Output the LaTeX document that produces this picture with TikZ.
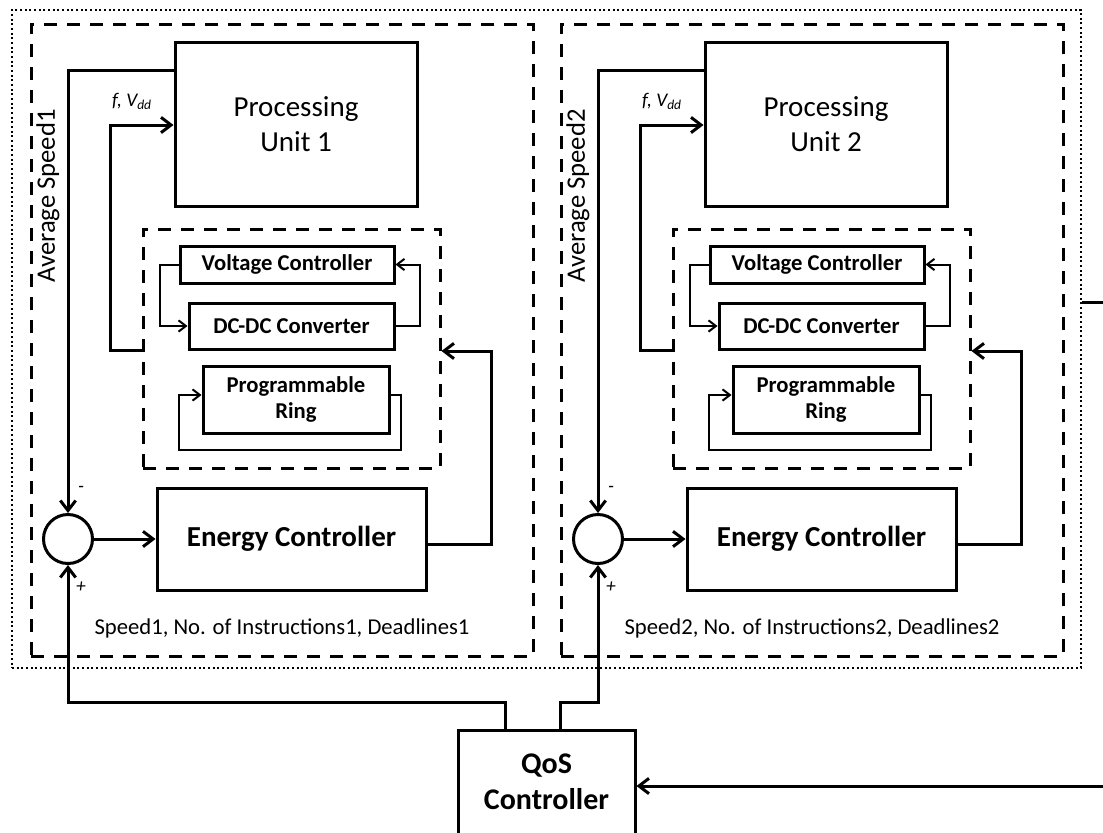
\documentclass[tikz,border=0pt]{standalone}
\usepackage{fontspec}
\setmainfont{Carlito}
\usetikzlibrary{arrows.meta}
\begin{document}
\begin{tikzpicture}[x=0.75pt,y=-0.75pt,
  sz/.style 2 args={minimum width=#1*0.75pt,minimum height=#2*0.75pt},
  box/.style={draw,line width=2.25pt,inner sep=0pt,align=center},
  dashbox/.style={draw,line width=2.25pt,dash pattern=on 9.75pt off 7.5pt,inner sep=0pt},
  dotbox/.style={draw,line width=1.9pt,dash pattern=on 1.6pt off 1.9pt,inner sep=0pt},
  wire/.style={line width=2.25pt},
  thinwire/.style={line width=1.5pt},
  arr/.style={-{Straight Barb[length=7.5pt,width=11.5pt]}},
  sarr/.style={-{Straight Barb[length=5.5pt,width=8.5pt]}},
  big/.style={font=\fontsize{21.75}{26}\selectfont},
  bigb/.style={font=\bfseries\fontsize{21.75}{26}\selectfont},
  midb/.style={font=\bfseries\fontsize{17}{20}\selectfont},
  mid/.style={font=\fontsize{17}{20}\selectfont},
  small/.style={font=\itshape\fontsize{14.5}{16}\selectfont,inner sep=0pt},
]
\useasboundingbox (0,0) rectangle (1103,832);

\node[dotbox,sz={1069}{658}] (outer) at (546.5,339) {};

\foreach \i/\dx in {1/0,2/530}{
\begin{scope}[xshift={\dx*0.75pt}]
  \node[dashbox,sz={502}{632}] (panel\i) at (282,340) {};
  \node[box,big,sz={242}{164}] (pu\i) at (296,124) {Processing\\Unit \i};
  \node[dashbox,sz={297}{239}] (ctl\i) at (291.5,348.5) {};
  \node[box,midb,sz={214}{37}] (vc\i) at (287,264.5) {Voltage Controller};
  \node[box,midb,sz={205}{46}] (dc\i) at (291.5,326) {DC-DC Converter};
  \node[box,midb,sz={186}{67}] (ring\i) at (296,399.5) {Programmable\\Ring};
  \node[box,bigb,sz={269}{102}] (ec\i) at (291.5,539) {Energy Controller};
  \node[draw,circle,line width=2.25pt,inner sep=0pt,minimum size=49*0.75pt] (sum\i) at (68,539) {};
  \node[mid,inner sep=0pt] (txt\i) at (282,628) {Speed\i, No. of Instructions\i, Deadlines\i};
  \node[font=\fontsize{20}{24}\selectfont,rotate=90,inner sep=0pt] (avg\i) at (48,196) {Average Speed\i};
  \node[small] (fv\i) at (132,101) {f, V\textsubscript{dd}};
  \node[small] (minus\i) at (81,489) {-};
  \node[small] (plus\i) at (81,587) {+};

  \draw[wire,arr] (pu\i.west |- 0,70) -| (sum\i.north);
  \draw[wire,arr] (ctl\i.west |- 0,350) -| (110,125) -- (pu\i.west |- 0,125);
  \draw[thinwire,sarr] (vc\i.west) -| (160,326) -- (dc\i.west);
  \draw[thinwire,sarr] (dc\i.east) -| (420,264.5) -- (vc\i.east);
  \draw[thinwire,sarr] (ring\i.east |- 0,395) -| (401,450) -| (179,395) -- (ring\i.west |- 0,395);
  \draw[wire,arr] (ec\i.east |- 0,544) -| (491,351) -- (ctl\i.east |- 0,351);
  \draw[wire,arr] (sum\i.east) -- (ec\i.west);
\end{scope}
}

\node[box,font=\bfseries\fontsize{22.5}{27}\selectfont,sz={177}{104}] (qos) at (546.5,782) {QoS\\Controller};
\draw[wire,arr] (qos.north -| 505,0) |- (68,702) -- (sum1.south);
\draw[wire,arr] (qos.north -| 560,0) |- (598,702) -- (sum2.south);
\coordinate (rin) at (1103,786);
\draw[wire,arr] (rin) -- (qos.east |- rin);
\coordinate (rout) at (1103,302);
\draw[wire] (outer.east |- rout) -- (rout);
\end{tikzpicture}
\end{document}
